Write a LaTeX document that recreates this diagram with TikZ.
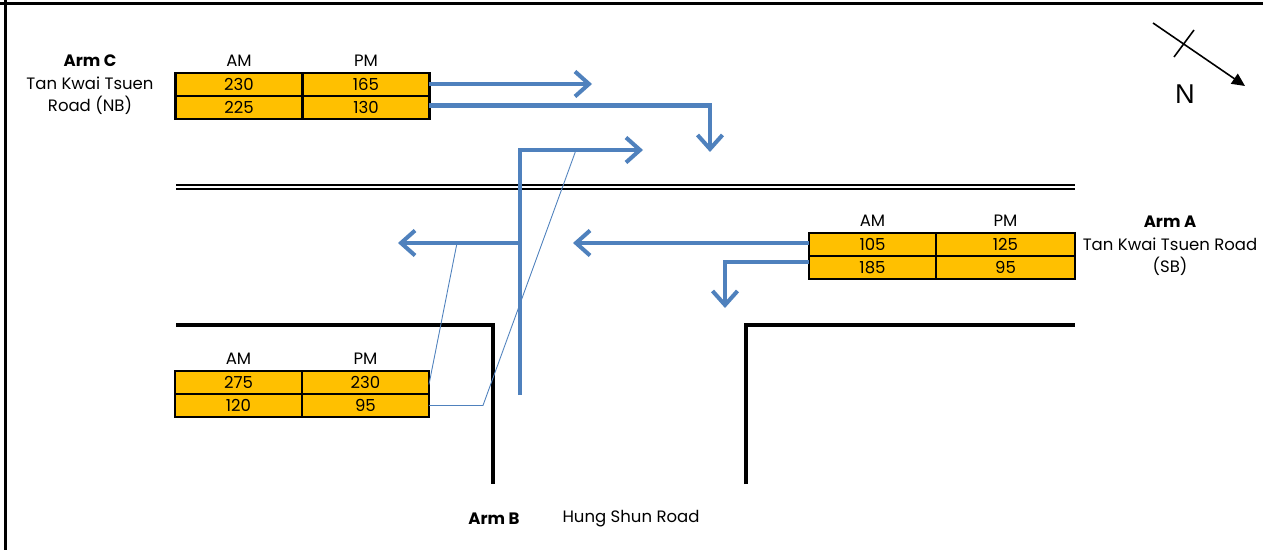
\documentclass[tikz,border=0pt]{standalone}
\usepackage{fontspec}
\setmainfont{Poppins}
\newfontfamily\arialfont{Liberation Sans}
\usetikzlibrary{
  arrows.meta,
  positioning
}
\definecolor{flowblue}{HTML}{4F81BD}
\definecolor{cellfill}{HTML}{FFC000}

\begin{document}
\begin{tikzpicture}[
  x=0.02cm, y=-0.02cm,
  cell/.style={draw, line width=1.3pt, fill=cellfill, minimum width=#1, minimum height=0.46cm,
    inner sep=0, outer sep=0, font=\fontsize{9.4}{11}\selectfont},
  cell/.default=2.54cm,
  head/.style={inner sep=0, font=\fontsize{9.4}{11}\selectfont},
  armlabel/.style={inner sep=0, align=center, font=\fontsize{9.4}{12.8}\selectfont},
  frameline/.style={line width=2.2pt},
  kerb/.style={line width=2pt},
  flow/.style={flowblue, line width=2.3pt, -{Straight Barb[length=2.8mm, width=5mm]}},
  callout/.style={flowblue, line width=0.5pt}
]
  \useasboundingbox (0,0) rectangle (1263,550);

  % Frame
  \draw[frameline] (0,3.5) -- (1263,3.5);
  \draw[frameline] (5.5,0) -- (5.5,550);

  % Road edges
  \draw[line width=1.1pt, double, double distance=1pt] (176,187) -- (1075,187);
  \draw[kerb] (176,325) -| (493,484);
  \draw[kerb] (746,484) |- (1075,325);

  % Arm C
  \node[cell] (c1am) at (239,84.5) {230};
  \node[cell, right=0pt of c1am] (c1pm) {165};
  \node[cell, below=0pt of c1am] (c2am) {225};
  \node[cell, right=0pt of c2am] (c2pm) {130};
  \node[head, above=3.5pt of c1am] {AM};
  \node[head, above=3.5pt of c1pm] {PM};
  \node[armlabel] (armc) at (90,85) {\textbf{Arm C}\\Tan Kwai Tsuen\\Road (NB)};

  % Arm A
  \node[cell] (a1am) at (872.5,244.5) {105};
  \node[cell=2.78cm, right=0pt of a1am] (a1pm) {125};
  \node[cell, below=0pt of a1am] (a2am) {185};
  \node[cell=2.78cm, right=0pt of a2am] (a2pm) {95};
  \node[head, above=3.5pt of a1am] {AM};
  \node[head, above=3.5pt of a1pm] {PM};
  \node[armlabel] (arma) at (1170,246) {\textbf{Arm A}\\Tan Kwai Tsuen Road\\(SB)};

  % Arm B
  \node[cell] (b1am) at (238.5,382.5) {275};
  \node[cell, right=0pt of b1am] (b1pm) {230};
  \node[cell, below=0pt of b1am] (b2am) {120};
  \node[cell, right=0pt of b2am] (b2pm) {95};
  \node[head, above=3.5pt of b1am] {AM};
  \node[head, above=3.5pt of b1pm] {PM};
  \node[armlabel, font=\fontsize{9.4}{11}\selectfont\bfseries] (armb) at (494,519) {Arm B};
  \node[armlabel] (armbname) at (631,519) {Hung Shun Road};

  % Turning movements
  \coordinate (cThruEnd) at (592,84);
  \coordinate (cRightEnd) at (710,152);
  \coordinate (bStart) at (520,395);
  \coordinate (bRightEnd) at (643,150);
  \coordinate (bLeftStart) at (520,243);
  \coordinate (bLeftEnd) at (398,243);
  \coordinate (aThruEnd) at (573,243);
  \coordinate (aLeftEnd) at (725,308);
  \draw[flow] (c1pm.east |- cThruEnd) -- (cThruEnd);
  \draw[flow] ([yshift=0.04cm]c2pm.east) -| (cRightEnd);
  \draw[flow] (bStart) |- (bRightEnd);
  \draw[flow] (bLeftStart) -- (bLeftEnd);
  \draw[flow] (a1am.west |- aThruEnd) -- (aThruEnd);
  \draw[flow] ([yshift=0.11cm]a2am.west) -| (aLeftEnd);

  % Callouts for Arm B
  \coordinate (bLeftTag) at (457,243);
  \coordinate (bRightTag) at (576,150);
  \draw[callout] ([yshift=-0.04cm]b1pm.east) -- (bLeftTag);
  \draw[callout] (b2pm.east) -- ++(54,0) -- (bRightTag);

  % North arrow
  \coordinate (nTail) at (1153,23);
  \coordinate (nTip) at (1245,86);
  \draw[line width=0.9pt, -{Triangle[length=2.6mm, width=2.4mm]}] (nTail) -- (nTip);
  \draw[line width=0.9pt] (1174,57) -- (1194,30);
  \node[font=\arialfont\fontsize{15.5}{18}\selectfont] (north) at (1185,94) {N};
\end{tikzpicture}
\end{document}
